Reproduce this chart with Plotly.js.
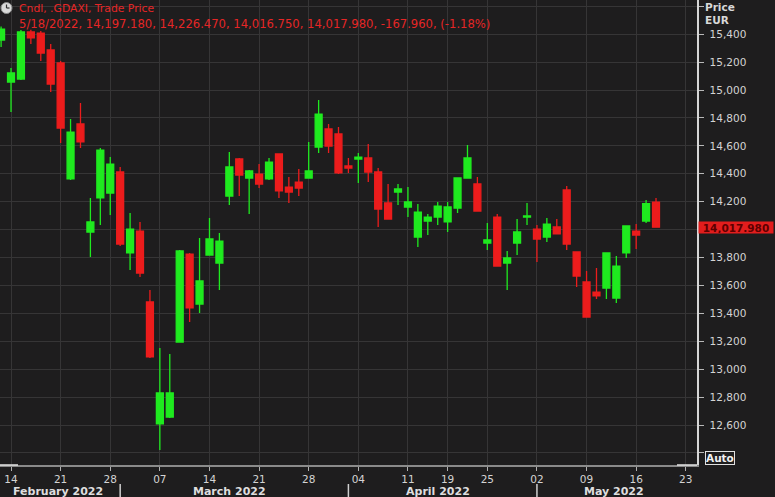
<!DOCTYPE html>
<html>
<head>
<meta charset="utf-8">
<script src="https://cdn.plot.ly/plotly-3.0.1.min.js"></script>
<style>
  html, body { margin: 0; padding: 0; background: #1e1d1e; }
  #chart { width: 775px; height: 497px; }
</style>
</head>
<body>
<div id="chart"></div>
<script>
// ---------- DATA ----------
const dates = [
  '2022-02-11','2022-02-14','2022-02-15','2022-02-16','2022-02-17','2022-02-18',
  '2022-02-21','2022-02-22','2022-02-23','2022-02-24','2022-02-25','2022-02-28',
  '2022-03-01','2022-03-02','2022-03-03','2022-03-04','2022-03-07','2022-03-08',
  '2022-03-09','2022-03-10','2022-03-11','2022-03-14','2022-03-15','2022-03-16',
  '2022-03-17','2022-03-18','2022-03-21','2022-03-22','2022-03-23','2022-03-24',
  '2022-03-25','2022-03-28','2022-03-29','2022-03-30','2022-03-31','2022-04-01',
  '2022-04-04','2022-04-05','2022-04-06','2022-04-07','2022-04-08','2022-04-11',
  '2022-04-12','2022-04-13','2022-04-14','2022-04-19','2022-04-20','2022-04-21',
  '2022-04-22','2022-04-25','2022-04-26','2022-04-27','2022-04-28','2022-04-29',
  '2022-05-02','2022-05-03','2022-05-04','2022-05-05','2022-05-06','2022-05-09',
  '2022-05-10','2022-05-11','2022-05-12','2022-05-13','2022-05-16','2022-05-17',
  '2022-05-18'
];
const openP = [
  15358,15057,15079,15416,15408,15287,
  15194,14363,14757,13983,14227,14262,
  14413,13833,13990,13482,12608,12658,
  13195,13825,13467,13818,13761,14241,
  14506,14370,14398,14363,14542,14305,
  14341,14370,14592,14721,14685,14456,
  14506,14513,14413,14191,14269,14162,
  13947,14062,14090,14055,14155,14370,
  14327,13904,14090,13761,13904,14090,
  14004,13947,14019,14284,13840,13625,
  13553,13582,13510,13833,13990,14062,
  14197.18
];
const highP = [
  15455,15158,15430,15432,15423,15330,
  15208,14792,14907,14227,14585,14520,
  14449,14119,14055,13568,13152,13109,
  13855,13832,13940,14083,13976,14556,
  14513,14427,14470,14513,14545,14377,
  14434,14628,14928,14757,14735,14513,
  14549,14613,14441,14327,14327,14305,
  14184,14112,14198,14198,14374,14606,
  14377,14047,14112,13847,14076,14191,
  14033,14083,14076,14312,13845,13704,
  13725,13838,13811,14030,14040,14212,
  14226.47
];
const lowP = [
  15308,14843,15072,15330,15208,14986,
  14620,14355,14585,13804,14033,14105,
  13883,13711,13661,13080,12421,12650,
  13190,13338,13403,13815,13568,14176,
  14241,14112,14298,14355,14227,14191,
  14241,14365,14549,14549,14398,14406,
  14334,14341,14019,14070,14176,14090,
  13876,13961,14033,13983,14119,14365,
  14130,13854,13735,13568,13818,14033,
  13768,13911,13965,13854,13589,13370,
  13503,13503,13474,13797,13861,14047,
  14016.75
];
const closeP = [
  15437,15122,15416,15373,15265,15043,
  14728,14699,14628,14055,14570,14470,
  13897,14004,13689,13088,12830,12830,
  13847,13439,13632,13933,13918,14449,
  14391,14420,14327,14484,14277,14269,
  14298,14420,14828,14599,14406,14441,
  14520,14413,14148,14076,14291,14198,
  14126,14090,14169,14162,14370,14513,
  14133,13926,13739,13797,13983,14098,
  13933,14040,13969,13897,13668,13374,
  13525,13833,13739,14026,13961,14185.94,
  14017.98
];
// future trading days shown on the time axis
const futureDates = ['2022-05-19','2022-05-20','2022-05-23','2022-05-24'];
// price axis tick values (gridlines) and which of them carry a visible label
const yTickVals = [12400,12600,12800,13000,13200,13400,13600,13800,14000,
                   14200,14400,14600,14800,15000,15200,15400,15600];
const yHiddenLabels = [12400, 14000, 15600];
const monthNames = ['January','February','March','April','May','June','July',
                    'August','September','October','November','December'];
const instrumentLabel = 'Cndl, .GDAXI, Trade Price';
const currencyLabel = 'EUR';

// ---------- DERIVED ----------
const tradingDays = dates.concat(futureDates);
const idx = dates.map((d, i) => i);
const dayOfWeek = s => new Date(s + 'T00:00:00Z').getUTCDay();

// weekly ticks: first trading day of each week
const xTickVals = [], xTickText = [];
for (let i = 1; i < tradingDays.length; i++) {
  if (dayOfWeek(tradingDays[i]) < dayOfWeek(tradingDays[i - 1])) {
    xTickVals.push(i);
    xTickText.push(tradingDays[i].slice(8, 10));
  }
}

// layout geometry
const W = 775, H = 497, plotW = 697, plotH = 465;
const xRange = [-0.11, 70.13];
const yRange = [12314, 15645];
const px2x = px => px / plotW;
const py2y = py => (plotH - py) / plotH;

// months: separators at the first trading day, labels centred on visible span
const monthStarts = [];
for (let i = 0; i < tradingDays.length; i++) {
  const m = tradingDays[i].slice(0, 7);
  if (i === 0 || m !== tradingDays[i - 1].slice(0, 7)) monthStarts.push(i);
}
const monthAnn = [], sepShapes = [];
monthStarts.forEach((s, k) => {
  const e = (k + 1 < monthStarts.length ? monthStarts[k + 1] : tradingDays.length) - 1;
  const lo = Math.max(s - 0.5, xRange[0]), hi = Math.min(e + 0.5, xRange[1]);
  const d = tradingDays[s];
  monthAnn.push({
    xref: 'x', yref: 'paper', x: (lo + hi) / 2, y: py2y(491),
    text: '<b>' + monthNames[+d.slice(5, 7) - 1] + ' ' + d.slice(0, 4) + '</b>',
    showarrow: false, xanchor: 'center', yanchor: 'middle',
    font: {family: 'DejaVu Sans', size: 11, color: '#dedede'}
  });
  if (k > 0) {
    sepShapes.push({type: 'line', xref: 'x', yref: 'paper', x0: s, x1: s,
      y0: py2y(484), y1: py2y(499), line: {color: '#cfcfcf', width: 1.5}});
  }
});

const yTickText = yTickVals.map(v =>
  yHiddenLabels.includes(v) ? '' : v.toLocaleString('en-US'));

// header text built from the last bar
const n = dates.length - 1;
const f3 = v => v.toLocaleString('en-US', {minimumFractionDigits: 3, maximumFractionDigits: 3});
const lastD = dates[n];
const change = closeP[n] - closeP[n - 1];
const pct = change / closeP[n - 1] * 100;
const header2 = (+lastD.slice(5, 7)) + '/' + (+lastD.slice(8, 10)) + '/' + lastD.slice(0, 4) + ', ' +
  f3(openP[n]) + ', ' + f3(highP[n]) + ', ' + f3(lowP[n]) + ', ' + f3(closeP[n]) + ', ' +
  f3(change) + ', (' + pct.toFixed(2) + '%)';

const GREEN = '#1fea1f', RED = '#ec1c1c', BG = '#1e1d1e', GRID = '#363536';
const FONT = 'DejaVu Sans';

const trace = {
  type: 'candlestick',
  x: idx, open: openP, high: highP, low: lowP, close: closeP,
  increasing: {line: {color: GREEN, width: 1.3}, fillcolor: GREEN},
  decreasing: {line: {color: RED, width: 1.3}, fillcolor: RED},
  whiskerwidth: 0,
  hoverinfo: 'skip',
  showlegend: false
};

const layout = {
  width: W, height: H,
  margin: {l: 0, r: W - plotW, t: 0, b: H - plotH, pad: 0},
  paper_bgcolor: BG, plot_bgcolor: BG,
  showlegend: false,
  boxgap: 0.3, boxgroupgap: 0,
  font: {family: FONT, color: '#d2d2d2'},
  xaxis: {
    type: 'linear', range: xRange, fixedrange: true,
    rangeslider: {visible: false},
    tickmode: 'array', tickvals: xTickVals, ticktext: xTickText,
    showgrid: true, gridcolor: GRID, gridwidth: 1, zeroline: false,
    ticks: 'outside', ticklen: 4, tickcolor: '#b0b0b0', tickwidth: 1,
    tickfont: {family: FONT, size: 10.5, color: '#d4d4d4'},
    showline: true, linecolor: '#8a8a8a', linewidth: 1.5
  },
  yaxis: {
    side: 'right', range: yRange, fixedrange: true,
    tickmode: 'array', tickvals: yTickVals, ticktext: yTickText,
    showgrid: true, gridcolor: GRID, gridwidth: 1, zeroline: false,
    ticks: 'outside', ticklen: 5, tickcolor: '#b8b8b8', tickwidth: 1,
    ticklabelstandoff: 4,
    tickfont: {family: FONT, size: 10.5, color: '#d4d4d4'},
    showline: true, linecolor: '#d6d6d6', linewidth: 1.5
  },
  shapes: [
    // clock icon
    {type: 'circle', xref: 'paper', yref: 'paper', x0: px2x(1), x1: px2x(12),
     y0: py2y(13.5), y1: py2y(2.5), fillcolor: '#d9d9d9', line: {color: '#8c8c8c', width: 1}},
    {type: 'line', xref: 'paper', yref: 'paper', x0: px2x(6.5), x1: px2x(6.5),
     y0: py2y(8), y1: py2y(4.5), line: {color: '#303030', width: 1.2}},
    {type: 'line', xref: 'paper', yref: 'paper', x0: px2x(6.5), x1: px2x(9.5),
     y0: py2y(8), y1: py2y(8), line: {color: '#303030', width: 1.2}},
    // bright scroll markers on the time axis
    {type: 'line', xref: 'paper', yref: 'paper', x0: 0, x1: px2x(18),
     y0: 0, y1: 0, line: {color: '#e4e4e4', width: 1.5}},
    {type: 'line', xref: 'paper', yref: 'paper', x0: px2x(677), x1: 1,
     y0: 0, y1: 0, line: {color: '#e4e4e4', width: 1.5}}
  ].concat(sepShapes),
  annotations: [
    {xref: 'paper', yref: 'paper', x: px2x(17), y: py2y(8), xanchor: 'left', yanchor: 'middle',
     text: instrumentLabel, showarrow: false, font: {family: FONT, size: 10.8, color: '#e62626'}},
    {xref: 'paper', yref: 'paper', x: px2x(17), y: py2y(24), xanchor: 'left', yanchor: 'middle',
     text: header2, showarrow: false, font: {family: FONT, size: 11.6, color: '#e62626'}},
    {xref: 'paper', yref: 'paper', x: px2x(703), y: py2y(6.5), xanchor: 'left', yanchor: 'middle',
     text: '<b>Price</b>', showarrow: false, font: {family: FONT, size: 10.5, color: '#d8d8d8'}},
    {xref: 'paper', yref: 'paper', x: px2x(703), y: py2y(20.5), xanchor: 'left', yanchor: 'middle',
     text: '<b>' + currencyLabel + '</b>', showarrow: false, font: {family: FONT, size: 10.5, color: '#d8d8d8'}},
    {xref: 'paper', yref: 'y', x: px2x(698), y: closeP[n], xanchor: 'left', yanchor: 'middle',
     text: '<b>' + f3(closeP[n]) + '</b>', showarrow: false, bgcolor: '#e21d1d',
     width: 74, height: 11, borderpad: 0, align: 'center',
     font: {family: FONT, size: 10.5, color: '#5e0000'}},
    {xref: 'paper', yref: 'paper', x: px2x(705), y: py2y(458), xanchor: 'left', yanchor: 'middle',
     text: '<b>Auto</b>', showarrow: false, bgcolor: BG, bordercolor: '#e0e0e0', borderwidth: 1,
     borderpad: 0, font: {family: FONT, size: 10.5, color: '#f0f0f0'}}
  ].concat(monthAnn)
};

Plotly.newPlot('chart', [trace], layout, {displayModeBar: false, staticPlot: true});
</script>
</body>
</html>
